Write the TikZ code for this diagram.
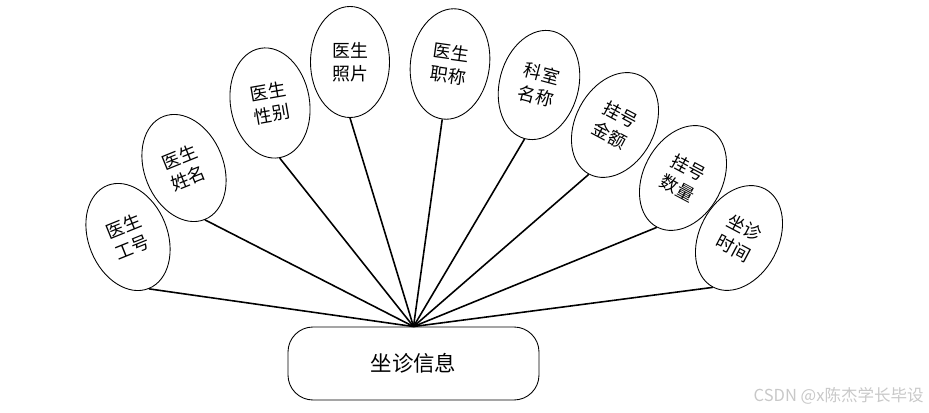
\documentclass[tikz,border=0pt]{standalone}
\usepackage{fontspec}
\usepackage{tikz}
\usetikzlibrary{shapes.geometric}
\newfontfamily\cjk{Noto Sans CJK SC}
\definecolor{cmark}{HTML}{C8C8C8}
\tikzset{
  attr/.style={ellipse, draw=black, line width=0.5pt, fill=white,
               minimum width=1.58cm, minimum height=2.22cm, inner sep=0pt,
               align=center, font=\cjk\fontsize{10.2}{13}\selectfont},
  ent/.style={rectangle, rounded corners=0.5cm, draw=black, line width=0.5pt,
              minimum width=5.02cm, minimum height=1.46cm,
              font=\cjk\fontsize{12.2}{14}\selectfont},
  lnk/.style={draw=black, line width=0.9pt}
}

\begin{document}
\begin{tikzpicture}

\useasboundingbox (0,0) rectangle (18.58,8.26);

\node[ent] (info) at (8.27,0.99) {坐诊信息};

\node[attr, rotate=22] (a1) at (2.56,3.52) {医生\\工号};
\node[attr, rotate=22] (a2) at (3.68,4.90) {医生\\姓名};
\node[attr, rotate=10] (a3) at (5.40,6.20) {医生\\性别};
\node[attr] (a4) at (7.00,7.02) {医生\\照片};
\node[attr, rotate=-8] (a5) at (9.00,6.98) {医生\\职称};
\node[attr, rotate=-15] (a6) at (10.78,6.56) {科室\\名称};
\node[attr, rotate=-28] (a7) at (12.30,5.76) {挂号\\金额};
\node[attr, rotate=-28] (a8) at (13.66,4.70) {挂号\\数量};
\node[attr, rotate=-28] (a9) at (14.78,3.50) {坐诊\\时间};

\draw[lnk] (info.north) -- (a1.south);
\draw[lnk] (info.north) -- (a2.south);
\draw[lnk] (info.north) -- (a3.south);
\draw[lnk] (info.north) -- (a4.south);
\draw[lnk] (info.north) -- (a5.south);
\draw[lnk] (info.north) -- (a6.south);
\draw[lnk] (info.north) -- (a7.south);
\draw[lnk] (info.north) -- (a8.south);
\draw[lnk] (info.north) -- (a9.south);

\node[anchor=east, text=cmark, inner sep=0pt, font=\cjk\fontsize{9.4}{11}\selectfont] (mark) at (18.48,0.34) {CSDN @x陈杰学长毕设};

\end{tikzpicture}
\end{document}
